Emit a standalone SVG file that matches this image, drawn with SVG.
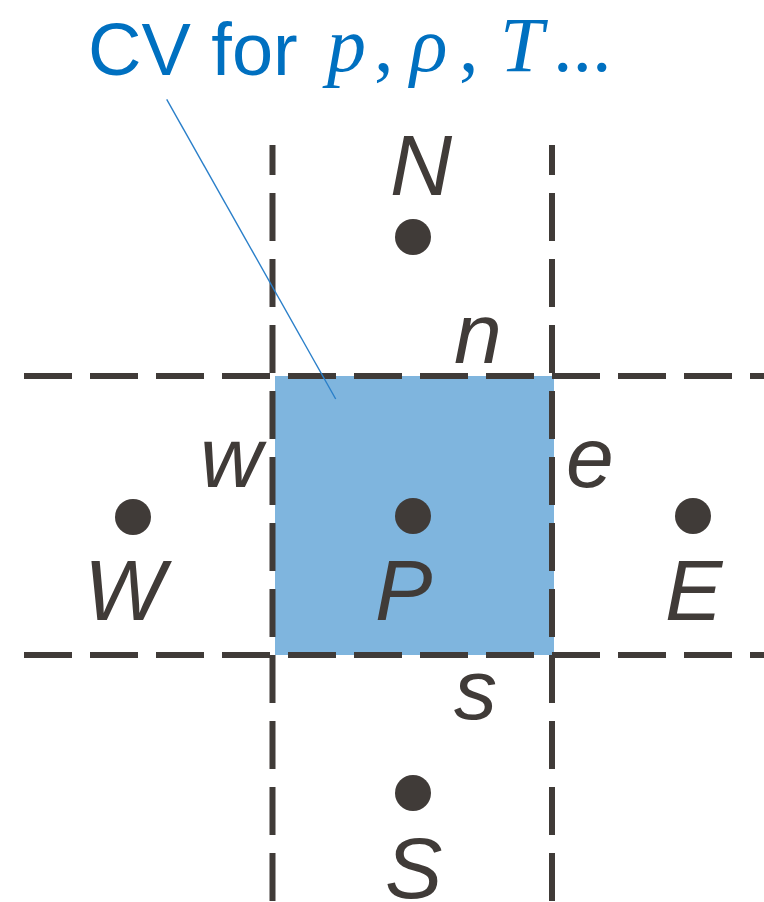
<svg xmlns="http://www.w3.org/2000/svg" width="764" height="902" viewBox="0 0 764 902">
<style>
.grid{stroke:#403b38;stroke-width:6;fill:none;stroke-dasharray:48 18}
.dot{fill:#403b38}
.lbl{font-family:"Liberation Sans",Arial,sans-serif;font-style:italic;font-size:86px;fill:#403b38}
.title{font-family:"Liberation Sans",Arial,sans-serif;font-size:74px;fill:#0070c0}
.math{font-family:"Liberation Serif","Times New Roman",serif;font-size:78px;fill:#0070c0}
.it{font-style:italic}
</style>
<rect width="764" height="902" fill="#ffffff"/>
<g id="cv">
<rect x="275" y="376" width="279" height="279" fill="#7fb5de"/>
</g>
<g id="connectors">
<line class="grid" x1="24" y1="376" x2="764" y2="376"/>
<line class="grid" x1="24" y1="655" x2="764" y2="655"/>
<line class="grid" x1="272.5" y1="145" x2="272.5" y2="902" stroke-dashoffset="18"/>
<line class="grid" x1="552" y1="145" x2="552" y2="902" stroke-dashoffset="18"/>
<line x1="166.7" y1="99.3" x2="335.7" y2="399" stroke="#2a7fc9" stroke-width="1.4"/>
</g>
<g id="title">
<text class="title" x="88" y="75">CV for</text>
<text class="math" y="71"><tspan x="327" class="it">p</tspan><tspan x="374">,</tspan><tspan x="410" class="it">ρ</tspan><tspan x="459">,</tspan><tspan x="500" class="it">T</tspan><tspan x="553">...</tspan></text>
</g>
<g id="node-N"><circle class="dot" cx="413" cy="237" r="18"/><text class="lbl" x="390" y="195">N</text></g>
<g id="node-P"><circle class="dot" cx="413" cy="516" r="18"/><text class="lbl" x="375" y="620">P</text></g>
<g id="node-W"><circle class="dot" cx="133" cy="517" r="18"/><text class="lbl" x="84" y="620">W</text></g>
<g id="node-E"><circle class="dot" cx="693" cy="516" r="18"/><text class="lbl" x="665" y="620">E</text></g>
<g id="node-S"><circle class="dot" cx="413" cy="793" r="18"/><text class="lbl" x="385" y="898">S</text></g>
<g id="face-n"><text class="lbl" x="454" y="363">n</text></g>
<g id="face-w"><text class="lbl" x="200" y="487">w</text></g>
<g id="face-e"><text class="lbl" x="566" y="487">e</text></g>
<g id="face-s"><text class="lbl" x="454" y="719">s</text></g>
</svg>
